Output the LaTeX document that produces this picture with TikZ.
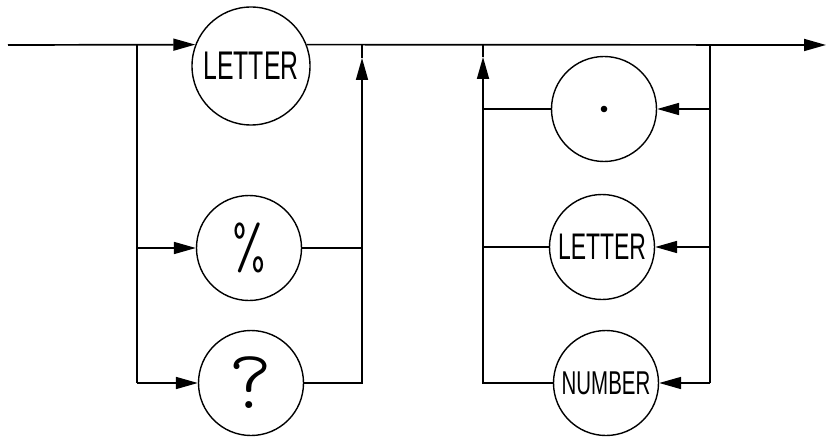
\documentclass[tikz,border=0pt]{standalone}
\usepackage{fontspec}
\usetikzlibrary{arrows.meta}
\newfontfamily\handfont[FakeStretch=0.62]{Liberation Sans}
\newfontfamily\thinfont{lmmonolt10-regular.otf}
\begin{document}
\begin{tikzpicture}[x=1pt,y=1pt,
  line width=1.7pt,
  tok/.style={circle, draw, line width=1.4pt, inner sep=0pt, minimum size=105pt},
  tip/.style={-{Triangle[length=22pt,width=12pt]}},
]
\useasboundingbox (0,0) rectangle (826,437);

% terminal symbols
\node[tok, minimum size=118pt] (let1) at (251,371) {\handfont\fontsize{40}{40}\selectfont LETTER};
\node[tok] (pct)  at (249,189) {\thinfont\fontsize{64}{64}\selectfont \%};
\node[tok] (qm)   at (251,54)  {\thinfont\fontsize{84}{84}\selectfont ?};
\node[tok] (dot)  at (604,328) {};
\fill (dot.center) circle (3.3pt);
\node[tok] (let2) at (602,190) {\handfont\fontsize{37}{37}\selectfont LETTER};
\node[tok] (num)  at (606,54)  {\handfont\fontsize{33}{33}\selectfont NUMBER};

% main line
\coordinate (start) at (8,392);
\coordinate (end) at (826,392);
\draw[tip] (start) -- (let1.159);
\draw[tip] (let1.21) -- (end);

% first alternative block
\coordinate (a1) at (137,392);
\coordinate (a2) at (137,189);
\coordinate (a3) at (137,54);
\coordinate (b1) at (362,392);
\coordinate (b2) at (362,189);
\coordinate (b3) at (362,54);
\coordinate (bt) at (362,379);
\draw (a1) -- (a3);
\draw[tip] (a2) -- (pct.west);
\draw[tip] (a3) -- (qm.west);
\draw (pct.east) -- (b2);
\draw[tip] (qm.east) -- (b3) -- (bt);
\draw (bt) -- (b1);

% repetition loop
\coordinate (c1) at (483,392);
\coordinate (c2) at (483,328);
\coordinate (c3) at (483,190);
\coordinate (c4) at (483,54);
\coordinate (ct) at (483,380);
\coordinate (d1) at (710,392);
\coordinate (d2) at (710,328);
\coordinate (d3) at (710,190);
\coordinate (d4) at (710,54);
\draw[tip] (num.west) -- (c4) -- (ct);
\draw (ct) -- (c1);
\draw (dot.west) -- (c2);
\draw (let2.west) -- (c3);
\draw (d1) -- (d4);
\draw[tip] (d2) -- (dot.east);
\draw[tip] (d3) -- (let2.east);
\draw[tip] (d4) -- (num.east);
\end{tikzpicture}
\end{document}
